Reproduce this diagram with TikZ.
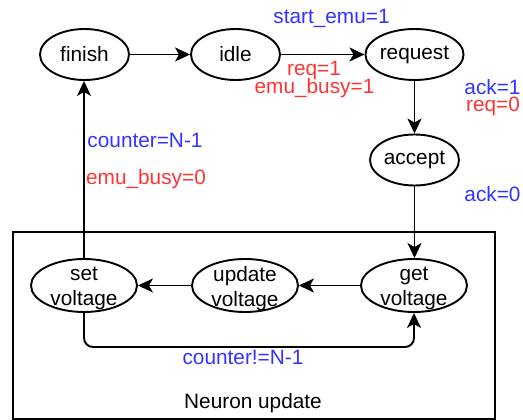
\documentclass[tikz,border=0pt]{standalone}
\usepackage{fontspec}
\setmainfont{Liberation Sans}
\usetikzlibrary{shapes.geometric,arrows.meta}
\definecolor{condblue}{RGB}{51,51,255}
\definecolor{actred}{RGB}{255,51,51}
\begin{document}
\begin{tikzpicture}[x=1pt,y=-1pt,
  every node/.style={font=\fontsize{20.8}{25}\selectfont, inner sep=0pt},
  state/.style={ellipse, draw, line width=1.9pt, minimum width=89pt, minimum height=51pt},
  substate/.style={ellipse, draw, line width=1.9pt, minimum width=106pt, minimum height=53pt},
  twoline/.style={align=center, anchor=center},
  flow/.style={line width=1.9pt, -{Stealth[length=15pt,width=14pt,inset=4pt]}},
  cond/.style={text=condblue, anchor=base},
  act/.style={text=actred, anchor=base}]
\useasboundingbox (0,0) rectangle (523,420);

% Neuron update container
\draw[line width=1.9pt] (13,232) rectangle (495,419);
\node (grp) at (253,403) {Neuron update};

% top-level states
\node[state] (finish)  at (84.5,54.5)  {finish};
\node[state] (idle)    at (235.5,54.5) {idle};
\node[state] (request) at (414.5,54.5) {request};
\node[state] (accept)  at (414.5,160)  {accept};

% neuron update states (labels sit a little low, as drawn)
\node[substate] (setv) at (84,285.5)  {};
\node[substate] (updv) at (245,285.5) {};
\node[substate] (getv) at (414,285.5) {};
\node[twoline] (setvt) at (84,288.5)  {set\\voltage};
\node[twoline] (updvt) at (245,288.5) {update\\voltage};
\node[twoline] (getvt) at (414,288.5) {get\\voltage};

% transitions
\draw[flow] (finish) -- (idle);
\draw[flow] (idle) -- (request);
\draw[flow] (request) -- (accept);
\draw[flow] (accept.south) -- (getv.north -| accept.south);
\draw[flow] (getv) -- (updv);
\draw[flow] (updv) -- (setv);
\draw[flow] (setv.north) -- (finish.south -| setv.north);
\coordinate (loopL) at (84,347);
\coordinate (loopR) at (414,347);
\draw[flow, rounded corners=9pt] (setv.south) -- (loopL) -- (loopR) -- (getv.south);

% transition labels
\node[cond] (l1) at (331.5,24)  {start\_emu=1};
\node[act]  (l2) at (314,76)    {req=1};
\node[act]  (l3) at (314.5,94)  {emu\_busy=1};
\node[cond] (l4) at (492.5,95)  {ack=1};
\node[act]  (l5) at (493,111.5) {req=0};
\node[cond] (l6) at (492.5,201.5) {ack=0};
\node[cond] (l7) at (145,148)   {counter=N-1};
\node[act]  (l8) at (146,185)   {emu\_busy=0};
\node[cond] (l9) at (243,364)   {counter!=N-1};
\end{tikzpicture}
\end{document}
